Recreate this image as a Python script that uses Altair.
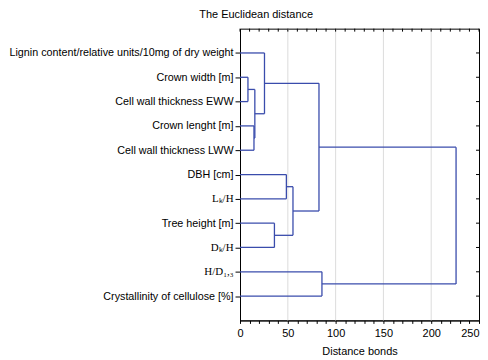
import json
import altair as alt
import pandas as pd

# ---- data ----
leaves = [
    "Lignin content/relative units/10mg of dry weight",
    "Crown width [m]",
    "Cell wall thickness EWW",
    "Crown lenght [m]",
    "Cell wall thickness LWW",
    "DBH  [cm]",
    "Lₖ/H",
    "Tree height [m]",
    "Dₖ/H",
    "H/D₁,₃",
    "Crystallinity of cellulose [%]",
]
# merges: node ids 0..10 are leaves, 11.. are merged clusters in order
merge_left = [1, 3, 11, 0, 7, 5, 16, 14, 9, 18]
merge_right = [2, 4, 12, 13, 8, 6, 15, 17, 10, 19]
merge_dist = [8.3, 14.6, 15.5, 25.6, 36.0, 48.5, 55.4, 82.6, 85.7, 226.0]

x_ticks = list(range(0, 251, 10))
grid_values = [50, 100, 150, 200]

# ---- build dendrogram segments from the merge table ----
n = len(leaves)
pos = {i: i + 1 for i in range(n)}
hgt = {i: 0.0 for i in range(n)}
segs = []
for k, (a, b, d) in enumerate(zip(merge_left, merge_right, merge_dist)):
    for c in (a, b):
        segs.append(dict(x=hgt[c], x2=d, y=pos[c], y2=pos[c]))
    segs.append(dict(x=d, x2=d, y=pos[a], y2=pos[b]))
    node = n + k
    pos[node] = (pos[a] + pos[b]) / 2
    hgt[node] = d
seg_df = pd.DataFrame(segs)

W, H = 240, 293
LINE = "#3a4cac"

xscale = alt.Scale(domain=[0, 250], nice=False, zero=False)
yscale = alt.Scale(domain=[0, 12], reverse=True, nice=False, zero=False)

label_expr = json.dumps(leaves) + "[datum.value - 1]"
serif_test = "datum.value == 7 || datum.value == 9 || datum.value == 10"

xaxis = alt.Axis(
    title="Distance bonds",
    values=x_ticks,
    labelExpr="datum.value % 50 == 0 ? datum.label : ''",
    labelAlign=alt.condition("datum.value == 250", alt.value("right"), alt.value("center")),
    tickSize=3,
    labelPadding=4,
    titlePadding=7,
    grid=False,
    domainColor="black",
    tickColor="black",
    labelFlush=False,
)
yaxis = alt.Axis(
    title=None,
    values=list(range(1, n + 1)),
    labelExpr=label_expr,
    tickSize=5,
    labelPadding=2,
    labelLimit=400,
    grid=False,
    domainColor="black",
    tickColor="black",
    labelFont=alt.condition(serif_test, alt.value("Liberation Serif"), alt.value("Liberation Sans")),
    labelFontSize=alt.condition(serif_test, alt.value(11), alt.value(10.8)),
)

grid = alt.Chart(pd.DataFrame({"x": grid_values})).mark_rule(
    color="#dcdcdc", strokeWidth=1
).encode(x=alt.X("x:Q", scale=xscale, axis=xaxis, title="Distance bonds"))

dendro = alt.Chart(seg_df).mark_rule(color=LINE, strokeWidth=1.3).encode(
    x=alt.X("x:Q", scale=xscale, axis=xaxis, title="Distance bonds"),
    x2="x2:Q",
    y=alt.Y("y:Q", scale=yscale, axis=yaxis, title=None),
    y2="y2:Q",
)

right_ticks = alt.Chart(pd.DataFrame({"y": list(range(1, n + 1))})).mark_rule(
    color="black"
).encode(
    y=alt.Y("y:Q", scale=yscale, axis=yaxis, title=None),
    x=alt.value(W - 3),
    x2=alt.value(W),
)

top_ticks = alt.Chart(pd.DataFrame({"x": x_ticks})).mark_rule(color="black").encode(
    x=alt.X("x:Q", scale=xscale, axis=xaxis, title="Distance bonds"),
    y=alt.value(0),
    y2=alt.value(3),
)

chart = (
    alt.layer(grid, dendro, right_ticks, top_ticks)
    .properties(
        width=W,
        height=H,
        padding=0,
        title=alt.TitleParams(
            "The Euclidean distance",
            fontSize=11,
            fontWeight="normal",
            font="Liberation Sans",
            anchor="middle",
            frame="bounds",
            offset=8,
            dx=12,
            color="black",
        ),
    )
    .configure_view(stroke="black", strokeWidth=1)
    .configure_axis(
        labelFont="Liberation Sans",
        titleFont="Liberation Sans",
        labelFontSize=11,
        titleFontSize=11,
        titleFontWeight="normal",
        labelColor="black",
        titleColor="black",
    )
)

chart.save("out.html", embed_options={"renderer": "svg", "actions": False})
